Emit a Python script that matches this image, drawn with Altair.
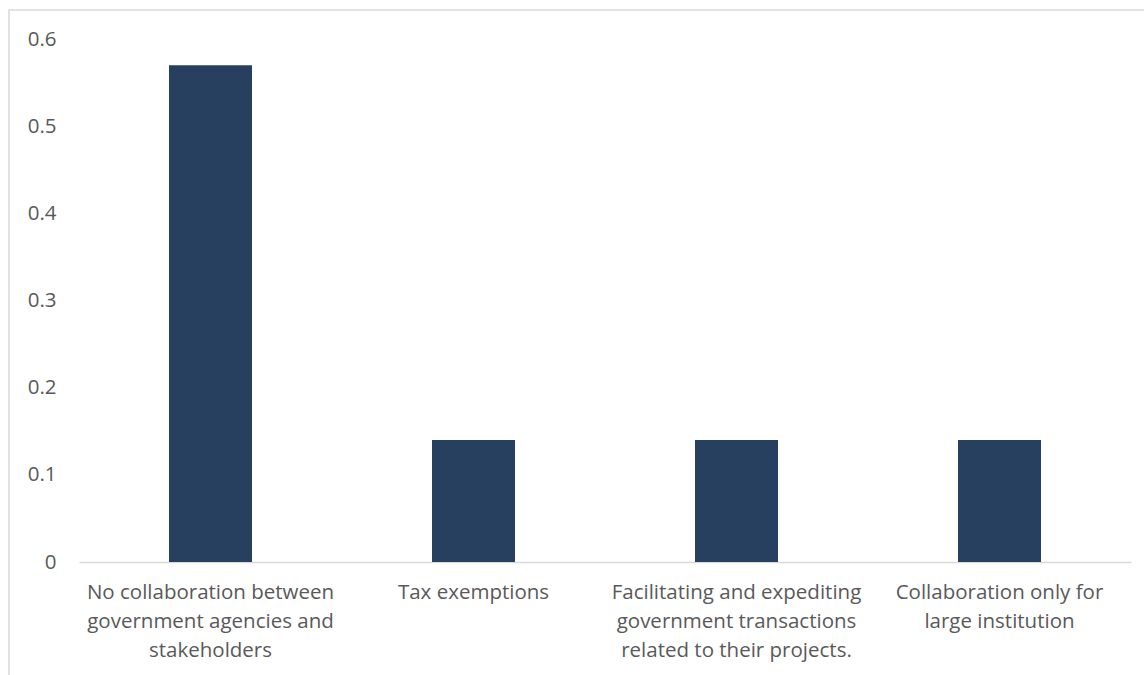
import altair as alt
import pandas as pd

labels = [
    "No collaboration between\ngovernment agencies and\nstakeholders",
    "Tax exemptions",
    "Facilitating and expediting\ngovernment transactions\nrelated to their projects.",
    "Collaboration only for\nlarge institution",
]
values = [0.57, 0.14, 0.14, 0.14]
y_ticks = [0, 0.1, 0.2, 0.3, 0.4, 0.5, 0.6]

df = pd.DataFrame({"label": labels, "value": values})

FONT = "Open Sans"
GRAY = "#595959"

bars = alt.Chart(df).mark_bar(color="#27405F", size=83).encode(
    x=alt.X(
        "label:N",
        sort=labels,
        title=None,
        scale=alt.Scale(paddingInner=0, paddingOuter=0),
        axis=alt.Axis(
            labelAngle=0,
            labelExpr="split(datum.value, '\\n')",
            labelFont=FONT,
            labelFontSize=20.5,
            labelColor=GRAY,
            labelLineHeight=29,
            labelPadding=20,
            labelBaseline="top",
            ticks=False,
            domainColor="#D9D9D9",
            domainWidth=1.5,
            labelLimit=400,
        ),
    ),
    y=alt.Y(
        "value:Q",
        title=None,
        scale=alt.Scale(domain=[0, 0.6], nice=False),
        axis=alt.Axis(
            values=y_ticks,
            labelExpr="datum.value == 0 ? '0' : format(datum.value, '.1f')",
            labelFont=FONT,
            labelFontSize=20.5,
            labelColor=GRAY,
            labelPadding=23,
            ticks=False,
            domain=False,
            grid=False,
        ),
    ),
)

border = alt.Chart(pd.DataFrame({"a": [0]})).mark_rect(
    fill=None, stroke="#D9D9D9", strokeWidth=1.5, clip=False
).encode(
    x=alt.value(-70),
    x2=alt.value(1200),
    y=alt.value(-29),
    y2=alt.value(800),
)

chart = (
    alt.layer(border, bars)
    .properties(
        width=1052,
        height=523,
        autosize=alt.AutoSizeParams(type="none"),
        padding={"left": 79, "top": 39, "right": 13, "bottom": 113},
    )
    .configure_view(stroke=None)
)

chart.save("out.html", embed_options={"renderer": "svg", "actions": False})
